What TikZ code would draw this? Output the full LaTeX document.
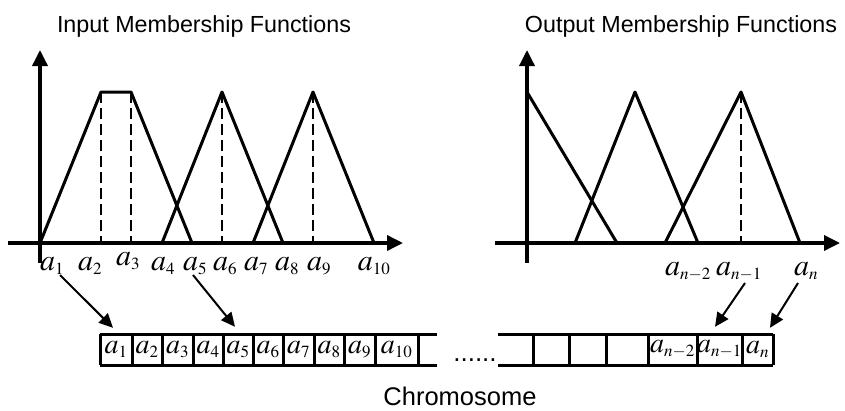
\documentclass[tikz,border=0pt]{standalone}
\usepackage{amsmath}
\usepackage{mathptmx}
\usepackage{fontspec}
\newfontfamily\arialfont{Liberation Sans}
\DeclareMathSizes{30}{30}{17}{13}
\DeclareMathSizes{28}{28}{17}{13}
\usepackage{tikz}
\usetikzlibrary{arrows.meta,calc}

\begin{document}
\begin{tikzpicture}[x=1pt,y=-1pt,
	axis/.style={line width=3.5pt,-{Triangle[length=16pt,width=15pt]}},
	mf/.style={line width=3pt,line join=round},
	guide/.style={line width=1.8pt,dash pattern=on 11pt off 5pt},
	cellline/.style={line width=3pt},
	title/.style={anchor=base,font=\arialfont\fontsize{23.3}{28}\selectfont},
	lbl/.style={anchor=base,inner sep=1pt,font=\fontsize{30}{34}\selectfont},
	cell/.style={minimum height=31pt,inner sep=0pt,font=\fontsize{28}{32}\selectfont},
	pick/.style={line width=2pt,-{Triangle[length=14pt,width=13pt]}}]
			\useasboundingbox (0,0) rectangle (845,410);
			% titles
			\node[title] (intitle) at (204,32) {Input Membership Functions};
			\node[title] (outtitle) at (681,32) {Output Membership Functions};
			% input membership functions
			\draw[axis] (8,243) -- (403,243);
			\draw[axis] (40,263) -- (40,50);
			\foreach \x in {101,131,222,313}{ \draw[guide] (\x,92) -- (\x,243); }
			\draw[mf] (40,243) -- (101,92) -- (131,92) -- (192,243);
			\draw[mf] (162,243) -- (222,92) -- (283,243);
			\draw[mf] (253,243) -- (313,92) -- (374,243);
			\foreach \x/\y/\k in {52/270/1,90/270/2,128/265/3,163/270/4,195/270/5,225/270/6,256/270/7,287/270/8,319/270/9,374/270/10}{
				\node[lbl] (in\k) at (\x,\y) {$a_{\k}$};
			}
			% output membership functions
			\draw[axis] (495,243) -- (840,243);
			\draw[axis] (527,263) -- (527,50);
			\draw[guide] (741,92) -- (741,243);
			\draw[mf] (527,92) -- (617,243);
			\draw[mf] (575,243) -- (635,92) -- (698,243);
			\draw[mf] (665,243) -- (741,92) -- (800,243);
			\node[lbl] (out1) at (688,275) {$a_{n-2}$};
			\node[lbl] (out2) at (739,275) {$a_{n-1}$};
			\node[lbl] (out3) at (806,275) {$a_{n}$};
			% chromosome
			\draw[cellline] (100,334) -- (437,334) (100,365) -- (437,365);
			\foreach \l/\r/\k in {100/132/1,132/162/2,162/193/3,193/223/4,223/253/5,253/283/6,283/314/7,314/344/8,344/375/9,375/418/10}{
				\draw[cellline] (\l,334) -- (\l,365) (\r,334) -- (\r,365);
				\node[cell,minimum width={\r-\l}] (c\k) at ({(\l+\r)/2},349.5) {$a_{\k}$};
			}
			\node[anchor=base,inner sep=0pt,font=\arialfont\fontsize{26}{30}\selectfont] (gap) at (475,361) {......};
			\draw[cellline] (498,334) -- (773,334) (498,365) -- (773,365);
			\foreach \l/\r/\k/\t in {533/569/1/{},569/606/2/{},606/648/3/{},648/697/4/{$a_{n-2}$},697/742/5/{$a_{n-1}$},742/773/6/{$a_{n}$}}{
				\draw[cellline] (\l,334) -- (\l,365) (\r,334) -- (\r,365);
				\node[cell,minimum width={\r-\l}] (r\k) at ({(\l+\r)/2},349.5) {\t};
			}
			\node[title,font=\arialfont\fontsize{25.5}{30}\selectfont] (chromo) at (460,405) {Chromosome};
			% genes picked from the functions
			\draw[pick] ($(in1.base)+(8,5)$) -- ($(c1.north)+(-3,-6)$);
			\draw[pick] ($(in5.base)+(-2,5)$) -- ($(c5.north)+(-3,-7)$);
			\draw[pick] ($(out2.base)+(6,8)$) -- ($(r5.north)+(-4.5,-7)$);
			\draw[pick] ($(out3.base)+(-8,8)$) -- ($(r6.north)+(12.5,-6)$);
		\end{tikzpicture}
\end{document}
